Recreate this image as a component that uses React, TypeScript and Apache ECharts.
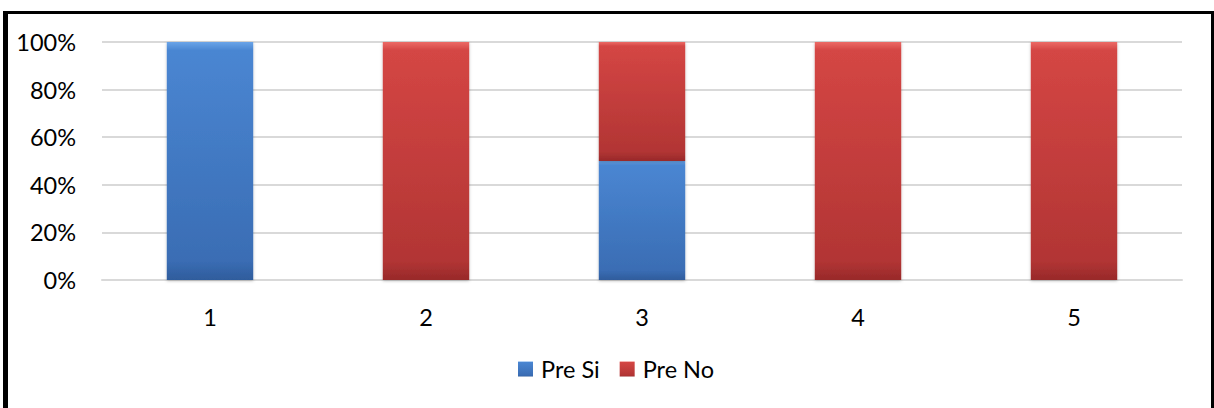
import React, { useEffect, useRef } from "react";
import * as echarts from "echarts";

const categories = ["1", "2", "3", "4", "5"];
const preSi = [100, 0, 50, 0, 0];
const preNo = [0, 100, 50, 100, 100];
const yTicks = [0, 20, 40, 60, 80, 100];

const FONT = "Lato";
const FS = 23.5;

const blueGrad = new echarts.graphic.LinearGradient(0, 0, 0, 1, [
  { offset: 0, color: "#6AA4E8" },
  { offset: 0.035, color: "#4A86D2" },
  { offset: 0.92, color: "#3A6DB4" },
  { offset: 1, color: "#2F5C9C" },
]);
const redGrad = new echarts.graphic.LinearGradient(0, 0, 0, 1, [
  { offset: 0, color: "#EC6A66" },
  { offset: 0.035, color: "#D44644" },
  { offset: 0.92, color: "#B23534" },
  { offset: 1, color: "#98292A" },
]);

const nz = (arr: number[]) => arr.map((v) => (v === 0 ? null : v));

export default function App() {
  const ref = useRef<HTMLDivElement>(null);
  useEffect(() => {
    document.body.style.margin = "0";
    const chart = echarts.init(ref.current!, null, { renderer: "svg" });
    chart.setOption({
      animation: false,
      textStyle: { fontFamily: FONT },
      grid: { left: 102, right: 32, top: 42, bottom: 128, containLabel: false },
      legend: {
        bottom: 22,
        left: 513,
        itemWidth: 15,
        itemHeight: 15,
        itemGap: 20,
        icon: "rect",
        textStyle: { fontFamily: FONT, fontSize: FS, color: "#000", padding: [0, 0, 0, 3] },
        data: ["Pre Si", "Pre No"],
      },
      xAxis: {
        type: "category",
        data: categories,
        axisLine: { lineStyle: { color: "#D9D9D9", width: 2 } },
        axisTick: { show: false },
        axisLabel: { color: "#000", fontSize: FS, fontFamily: FONT, margin: 25 },
      },
      yAxis: {
        type: "value",
        min: yTicks[0],
        max: yTicks[yTicks.length - 1],
        interval: 20,
        axisLine: { show: false },
        axisTick: { show: false },
        splitLine: { lineStyle: { color: "#D9D9D9", width: 2 } },
        axisLabel: {
          color: "#000",
          fontSize: FS,
          fontFamily: FONT,
          margin: 26,
          formatter: (v: number) => v + "%",
        },
      },
      series: [
        {
          name: "Pre Si",
          type: "bar",
          stack: "a",
          barWidth: "40%",
          data: nz(preSi),
          itemStyle: { color: blueGrad, borderWidth: 0, shadowColor: "rgba(0,0,0,0.25)", shadowBlur: 3, shadowOffsetY: 1 },
        },
        {
          name: "Pre No",
          type: "bar",
          stack: "a",
          barWidth: "40%",
          data: nz(preNo),
          itemStyle: { color: redGrad, borderWidth: 0, shadowColor: "rgba(0,0,0,0.25)", shadowBlur: 3, shadowOffsetY: 1 },
        },
      ],
      graphic: [
        { type: "rect", shape: { x: 3, y: 11, width: 5, height: 420 }, style: { fill: "#000" } },
        { type: "rect", shape: { x: 3, y: 11, width: 1211, height: 3 }, style: { fill: "#000" } },
        { type: "rect", shape: { x: 1211, y: 11, width: 3, height: 420 }, style: { fill: "#000" } },
      ],
    });
    return () => chart.dispose();
  }, []);
  return <div ref={ref} style={{ width: 1214, height: 408, position: "absolute", left: 0, top: 0 }} />;
}
